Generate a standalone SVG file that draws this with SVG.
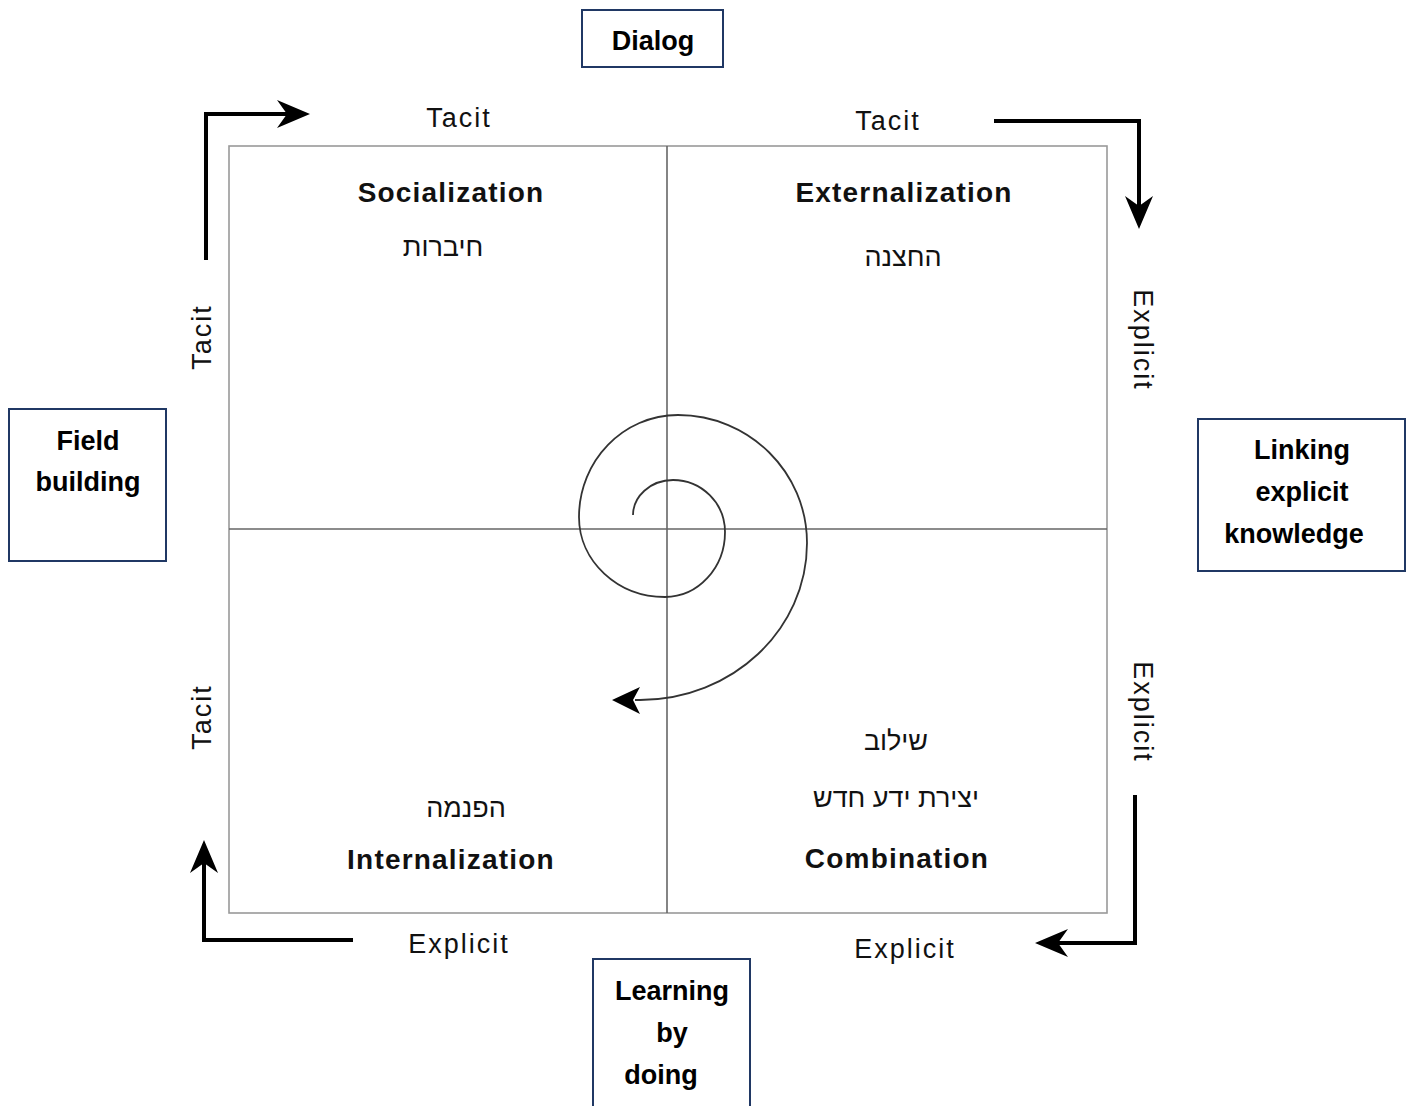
<svg xmlns="http://www.w3.org/2000/svg" width="1412" height="1106" viewBox="0 0 1412 1106">
<style>
.box{fill:#fff;stroke:#203864;stroke-width:2}
.bt{font-family:"Liberation Sans",Arial,sans-serif;font-weight:bold;font-size:27px;fill:#000;text-anchor:middle}
.ql{font-family:"Liberation Sans",Arial,sans-serif;font-weight:bold;font-size:28px;letter-spacing:1.2px;fill:#111;text-anchor:middle}
.ax{font-family:"Liberation Sans",Arial,sans-serif;font-size:27px;letter-spacing:2px;fill:#111;text-anchor:middle}
.he{font-family:"Liberation Sans","DejaVu Sans",sans-serif;font-size:27px;fill:#111;text-anchor:middle}
.frame{fill:none;stroke:#999;stroke-width:1.6}
.cross{stroke:#666;stroke-width:1.6}
.thick{fill:none;stroke:#000;stroke-width:4;marker-end:url(#ah)}
.spiral{fill:none;stroke:#333;stroke-width:1.8;marker-end:url(#ahs)}
</style>
<defs>
<marker id="ah" markerUnits="userSpaceOnUse" viewBox="-34 -16 36 32" markerWidth="36" markerHeight="32" refX="-8" refY="0" orient="auto">
<path d="M0,0 L-33,-14 L-23,0 L-33,14 Z" fill="#000"/>
</marker>
<marker id="ahs" markerUnits="userSpaceOnUse" viewBox="-30 -15 32 30" markerWidth="32" markerHeight="30" refX="-23" refY="0" orient="auto">
<path d="M0,0 L-28,-14 L-21,0 L-28,13 Z" fill="#000"/>
</marker>
</defs>
<rect width="1412" height="1106" fill="#fff"/>

<g id="matrix">
<rect class="frame" x="229" y="146" width="878" height="767"/>
<line class="cross" x1="667" y1="146" x2="667" y2="913"/>
<line class="cross" x1="229" y1="529" x2="1107" y2="529"/>
</g>

<g id="connectors">
<path class="thick" d="M206,260 L206,114 L302,114"/>
<path class="thick" d="M994,121 L1139,121 L1139,221"/>
<path class="thick" d="M1135,795 L1135,943 L1043,943"/>
<path class="thick" d="M353,940 L204,940 L204,848"/>
<path class="spiral" d="M633,515 C633,497 650,480 673,480 C701.7,480 725,503.3 725,532 C725,567.9 698.1,597 665,597 C617.5,597 579,561.2 579,517 C579,460.7 623.3,415 678,415 C749.2,415 807,472.3 807,543 C807,629.7 732.2,700 640,700 L635,700"/>
</g>

<g id="socialization">
<text class="ql" x="451" y="202">Socialization</text>
<text class="he" x="443" y="256">חיברות</text>
</g>
<g id="externalization">
<text class="ql" x="904" y="202">Externalization</text>
<text class="he" x="903" y="266">החצנה</text>
</g>
<g id="internalization">
<text class="he" x="466" y="817">הפנמה</text>
<text class="ql" x="451" y="869">Internalization</text>
</g>
<g id="combination">
<text class="he" x="896" y="750">שילוב</text>
<text class="he" x="896" y="807">יצירת ידע חדש</text>
<text class="ql" x="897" y="868">Combination</text>
</g>

<g id="axis-labels">
<text class="ax" x="459" y="127">Tacit</text>
<text class="ax" x="888" y="130">Tacit</text>
<text class="ax" x="459" y="953">Explicit</text>
<text class="ax" x="905" y="958">Explicit</text>
<text class="ax" transform="translate(211,337) rotate(-90)">Tacit</text>
<text class="ax" transform="translate(211,717) rotate(-90)">Tacit</text>
<text class="ax" transform="translate(1134,340) rotate(90)">Explicit</text>
<text class="ax" transform="translate(1134,712) rotate(90)">Explicit</text>
</g>

<g id="dialog">
<rect class="box" x="582" y="10" width="141" height="57"/>
<text class="bt" x="653" y="50">Dialog</text>
</g>
<g id="field-building">
<rect class="box" x="9" y="409" width="157" height="152"/>
<text class="bt" x="88" y="450">Field</text>
<text class="bt" x="88" y="491">building</text>
</g>
<g id="linking">
<rect class="box" x="1198" y="419" width="207" height="152"/>
<text class="bt" x="1302" y="459">Linking</text>
<text class="bt" x="1302" y="501">explicit</text>
<text class="bt" x="1294" y="543">knowledge</text>
</g>
<g id="learning">
<rect class="box" x="593" y="959" width="157" height="160"/>
<text class="bt" x="672" y="1000">Learning</text>
<text class="bt" x="672" y="1042">by</text>
<text class="bt" x="661" y="1084">doing</text>
</g>
</svg>
